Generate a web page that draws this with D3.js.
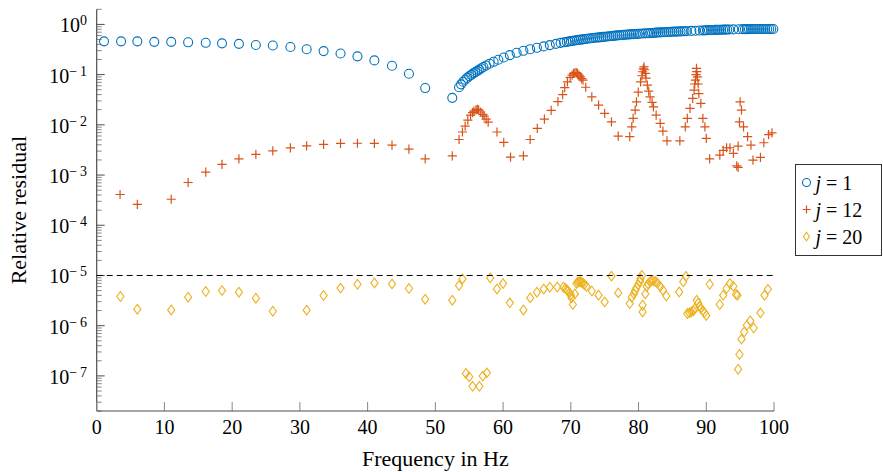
<!DOCTYPE html>
<html>
<head>
<meta charset="utf-8">
<script src="https://cdn.jsdelivr.net/npm/d3@7"></script>
<style>
  html, body { margin: 0; padding: 0; background: #fff; }
  svg { display: block; font-family: "Liberation Serif", "Times New Roman", serif; }
</style>
</head>
<body>
<svg id="chart" width="883" height="472"></svg>
<script>
// Relative residual of three iterates j over the frequency band.
const seriesNames = ["j = 1", "j = 12", "j = 20"];
const threshold = 1e-5;
const xTicks = [0, 10, 20, 30, 40, 50, 60, 70, 80, 90, 100];
const yDecades = [0, -1, -2, -3, -4, -5, -6, -7];

// j = 1  [frequency in Hz, relative residual]
const j1 = [
  [1.08,0.46],[3.6,0.46],[6.0,0.46],[8.5,0.45],[11.0,0.45],[13.5,0.44],[16.1,0.43],[18.5,0.42],
  [21.0,0.41],[23.5,0.39],[26.0,0.38],[28.6,0.355],[31.0,0.32],[33.5,0.294],[36.0,0.264],
  [38.5,0.231],[41.0,0.192],[43.6,0.15],[46.1,0.104],[48.5,0.054],[52.5,0.0345],
  [53.5,0.056],[53.8,0.064],[54.1,0.072],[54.4,0.079],[54.7,0.086],[55.0,0.093],[55.3,0.099],
  [55.6,0.106],[55.9,0.112],[56.2,0.119],[56.5,0.126],[56.8,0.134],[57.1,0.142],[57.5,0.152],
  [58.0,0.165],[58.6,0.18],[59.3,0.198],[60.1,0.219],[61.0,0.245],[62.0,0.272],[63.0,0.298],
  [64.0,0.321],[65.0,0.342],[66.0,0.365],[66.9,0.387],[67.8,0.41],[68.5,0.428],[69.0,0.44],
  [69.4,0.45],[69.7,0.457],
  [70.0,0.464],[70.3,0.471],[70.6,0.478],[70.9,0.486],[71.2,0.492],[71.5,0.498],[71.8,0.504],
  [72.1,0.511],[72.4,0.517],[72.7,0.524],[73.0,0.53],[73.3,0.536],[73.6,0.542],[73.9,0.547],
  [74.2,0.553],[74.5,0.558],[74.8,0.564],[75.1,0.569],[75.4,0.574],[75.7,0.58],[76.0,0.586],
  [76.3,0.592],[76.6,0.598],[76.9,0.604],[77.2,0.61],[77.5,0.614],[77.8,0.619],[78.1,0.623],
  [78.4,0.628],[78.7,0.632],[79.0,0.636],[79.3,0.64],[79.6,0.645],[79.9,0.649],[80.2,0.653],
  [80.6,0.658],[81.0,0.663],[81.4,0.668],
  [81.7,0.672],[82.0,0.676],[82.3,0.68],[82.6,0.685],[82.9,0.689],[83.2,0.693],[83.5,0.697],
  [83.8,0.7],[84.1,0.704],[84.4,0.707],[84.7,0.711],[85.0,0.714],[85.3,0.717],[85.6,0.72],
  [85.9,0.723],[86.2,0.726],[86.5,0.729],[86.8,0.732],[87.1,0.735],
  [87.8,0.742],[88.4,0.748],[89.0,0.754],
  [89.5,0.759],[89.8,0.762],[90.1,0.765],[90.4,0.769],[90.7,0.772],[91.0,0.774],[91.3,0.777],
  [91.6,0.779],[91.9,0.781],[92.2,0.784],[92.5,0.786],[92.8,0.788],[93.1,0.79],[93.4,0.792],
  [94.0,0.796],[94.8,0.801],
  [95.4,0.804],[95.7,0.805],[96.0,0.806],[96.3,0.807],[96.6,0.808],[96.9,0.809],[97.2,0.809],
  [97.5,0.81],[97.8,0.81],[98.1,0.811],[98.4,0.811],[98.7,0.811],[99.0,0.812],[99.3,0.812],
  [99.6,0.812],[99.9,0.812]
];

// j = 12
const j12 = [
  [3.45,4.1e-4],[6.0,2.6e-4],[11.0,3.3e-4],[13.5,7.1e-4],[16.1,1.14e-3],[18.5,1.63e-3],
  [21.0,2.1e-3],[23.5,2.57e-3],[26.0,3.03e-3],[28.6,3.48e-3],[31.0,3.8e-3],[33.5,4.07e-3],
  [36.0,4.26e-3],[38.5,4.3e-3],[41.0,4.26e-3],[43.6,3.94e-3],[46.1,3.28e-3],[48.5,2.1e-3],
  [52.5,2.41e-3],[53.5,5.1e-3],[54.0,7.2e-3],[54.4,9.4e-3],[54.8,0.0124],[55.2,0.0156],
  [55.5,0.0175],[55.7,0.0188],[56.0,0.0198],[56.2,0.0203],[56.4,0.0199],[56.7,0.018],
  [57.0,0.0162],[57.2,0.0149],[57.5,0.013],[57.8,0.0113],[59.1,7.2e-3],[60.1,4.46e-3],
  [61.1,2.27e-3],[63.0,2.41e-3],[64.0,5.1e-3],[65.05,8.5e-3],[66.1,0.013],[67.1,0.0194],
  [68.1,0.029],[68.8,0.04],[69.1,0.055],[69.5,0.072],[69.9,0.088],[70.2,0.098],[70.4,0.106],
  [70.6,0.109],[70.8,0.11],[71.0,0.106],[71.2,0.098],[71.4,0.09],[71.6,0.083],[71.8,0.078],
  [72.2,0.056],[73.1,0.036],[74.1,0.0247],[75.0,0.0169],[76.0,0.0115],[77.0,5.96e-3],
  [78.7,5.8e-3],[79.0,9.1e-3],[79.2,0.0134],[79.5,0.0196],[79.7,0.0287],[79.96,0.045],
  [80.3,0.072],[80.5,0.095],[80.6,0.114],[80.7,0.13],[80.8,0.143],[80.9,0.125],[81.0,0.106],
  [81.1,0.085],[81.3,0.062],[81.5,0.047],[81.7,0.036],[82.0,0.028],[82.2,0.0228],[82.6,0.0156],
  [83.2,0.0107],[83.6,7.5e-3],[84.2,4.8e-3],[86.1,4.8e-3],[86.9,9.1e-3],[87.2,0.0134],
  [87.6,0.0212],[88.0,0.0336],[88.2,0.049],[88.3,0.065],[88.4,0.078],[88.5,0.1],[88.55,0.133],
  [88.6,0.115],[88.7,0.09],[88.8,0.065],[88.9,0.042],[89.2,0.0267],[89.5,0.0134],[89.8,9.1e-3],
  [90.0,5.4e-3],[90.5,2.1e-3],[92.0,2.49e-3],[92.5,3.1e-3],[93.0,3.5e-3],[93.5,3.5e-3],
  [94.0,2.7e-3],[94.5,1.52e-3],[94.7,1.42e-3],[94.7,3.77e-3],[94.9,0.0115],[95.0,0.0287],
  [95.2,0.0196],[95.5,9.1e-3],[96.1,5.8e-3],[96.6,3.94e-3],[96.9,1.98e-3],[98.0,2.24e-3],
  [98.5,4.4e-3],[99.2,6.4e-3],[99.7,6.9e-3]
];

// j = 20
const j20 = [
  [3.5,3.82e-6],[6.0,2.13e-6],[11.0,2.06e-6],[13.5,3.7e-6],[16.1,4.8e-6],[18.5,5.0e-6],
  [21.0,4.65e-6],[23.5,3.53e-6],[26.0,1.94e-6],[31.0,2.04e-6],[33.5,4.0e-6],[36.0,5.6e-6],
  [38.5,6.7e-6],[41.0,7.1e-6],[43.6,6.8e-6],[46.1,5.5e-6],[48.5,3.37e-6],[52.5,3.22e-6],
  [53.5,6.3e-6],[54.0,8.55e-6],[54.5,1.12e-7],[55.0,9.6e-8],[55.5,6.2e-8],[56.5,6.2e-8],
  [57.0,9.9e-8],[57.6,1.15e-7],[58.1,8.95e-6],[59.1,5.4e-6],[60.0,6.9e-6],[61.0,2.85e-6],
  [63.0,2.06e-6],[64.0,3.58e-6],[65.0,4.65e-6],[66.0,5.4e-6],[66.9,5.85e-6],[68.0,5.9e-6],
  [68.9,5.85e-6],[69.2,5.5e-6],[69.4,5.2e-6],[69.6,4.9e-6],[69.8,4.5e-6],[70.0,4.1e-6],
  [70.1,3.6e-6],[70.3,2.64e-6],[70.6,4.3e-6],[70.85,6.9e-6],[71.0,7.3e-6],[71.2,7.5e-6],
  [71.4,7.5e-6],[71.6,7.3e-6],[71.8,7.0e-6],[72.0,6.6e-6],[72.3,6.1e-6],[73.1,4.9e-6],
  [74.1,4.05e-6],[75.0,2.98e-6],[76.0,9.7e-6],[77.0,4.5e-6],[78.7,2.77e-6],[79.0,3.7e-6],
  [79.3,4.3e-6],[79.5,5.0e-6],[79.7,5.7e-6],[79.96,6.6e-6],[80.2,7.6e-6],[80.3,8.6e-6],
  [80.5,1.01e-5],[80.6,2.56e-6],[80.6,1.88e-6],[81.0,4.3e-6],[81.2,6.0e-6],[81.4,6.8e-6],
  [81.7,7.5e-6],[81.9,7.8e-6],[82.2,7.8e-6],[82.5,7.6e-6],[82.8,7.0e-6],[83.2,6.0e-6],
  [83.6,5.1e-6],[84.1,3.9e-6],[86.0,4.7e-6],[86.6,7.5e-6],[87.0,9.6e-6],[87.2,1.75e-6],
  [87.5,1.8e-6],[87.8,1.88e-6],[88.1,1.97e-6],[88.3,2.2e-6],[88.6,3.2e-6],[88.8,2.8e-6],
  [89.0,2.4e-6],[89.2,2.2e-6],[89.5,2.0e-6],[89.7,1.8e-6],[90.0,1.6e-6],[90.5,6.7e-6],
  [92.0,2.64e-6],[92.5,4.05e-6],[93.0,5.5e-6],[93.5,6.9e-6],[94.0,6.1e-6],[94.4,4.2e-6],
  [94.6,4.05e-6],[94.7,1.36e-7],[94.9,2.67e-7],[95.2,5.4e-7],[95.6,7.5e-7],[96.0,1.02e-6],
  [96.5,1.25e-6],[97.0,9.0e-7],[98.0,1.8e-6],[98.6,4.05e-6],[99.1,5.3e-6]
];

const colors = ["#0072BD", "#D95319", "#EDB120"];

const svg = d3.select("#chart");
const plot = { left: 96.7, right: 774, top: 9.3, bottom: 411 };

const x = d3.scaleLinear().domain([0, 100]).range([plot.left, plot.right]);
const y = d3.scaleLog().domain([2e-8, 2]).range([plot.bottom, plot.top]);

const axisColor = "#4d4d4d";

// ---- y axis: decades + minor ticks, drawn inward ----
const yAxis = svg.append("g").attr("class", "y-axis");
const minorVals = [];
for (let k = -8; k <= 0; k++) {
  for (let m = 2; m <= 9; m++) {
    const v = m * Math.pow(10, k);
    if (v >= 2e-8 && v <= 2.0001) minorVals.push(v);
  }
}
yAxis.selectAll("line.minor").data(minorVals).join("line")
  .attr("class", "minor")
  .attr("x1", plot.left).attr("x2", plot.left + 5)
  .attr("y1", d => y(d)).attr("y2", d => y(d))
  .attr("stroke", "#888").attr("stroke-width", 1);
yAxis.selectAll("line.major").data(yDecades).join("line")
  .attr("class", "major")
  .attr("x1", plot.left).attr("x2", plot.left + 8)
  .attr("y1", d => y(Math.pow(10, d))).attr("y2", d => y(Math.pow(10, d)))
  .attr("stroke", axisColor).attr("stroke-width", 1);
const yLab = yAxis.selectAll("text").data(yDecades).join("text")
  .attr("x", 87).attr("y", d => y(Math.pow(10, d)) + 8)
  .attr("text-anchor", "end").attr("font-size", 20).attr("fill", "#000");
yLab.append("tspan").text("10");
yLab.append("tspan").attr("dy", -7).attr("font-size", 14)
  .text(d => d === 0 ? "0" : "\u2212\u2009" + (-d));
yAxis.append("line")
  .attr("x1", plot.left).attr("x2", plot.left)
  .attr("y1", plot.top).attr("y2", plot.bottom)
  .attr("stroke", axisColor).attr("stroke-width", 1.2);

// ---- x axis ----
const xAxis = svg.append("g").attr("class", "x-axis");
xAxis.selectAll("line.tick").data(xTicks).join("line")
  .attr("class", "tick")
  .attr("x1", d => x(d)).attr("x2", d => x(d))
  .attr("y1", plot.bottom).attr("y2", plot.bottom - 9)
  .attr("stroke", "#888").attr("stroke-width", 1);
xAxis.selectAll("text").data(xTicks).join("text")
  .attr("x", d => x(d)).attr("y", 434)
  .attr("text-anchor", "middle").attr("font-size", 20).attr("fill", "#000")
  .text(d => d);
xAxis.append("line")
  .attr("x1", plot.left).attr("x2", plot.right)
  .attr("y1", plot.bottom).attr("y2", plot.bottom)
  .attr("stroke", axisColor).attr("stroke-width", 1.2);

// ---- axis titles ----
svg.append("text")
  .attr("x", (plot.left + plot.right) / 2).attr("y", 466)
  .attr("text-anchor", "middle").attr("font-size", 22).attr("fill", "#000")
  .text("Frequency in Hz");
svg.append("text")
  .attr("transform", `translate(26,${(plot.top + plot.bottom) / 2}) rotate(-90)`)
  .attr("text-anchor", "middle").attr("font-size", 22).attr("fill", "#000")
  .text("Relative residual");

// ---- markers ----
const crossPath = s => `M${-s},0H${s}M0,${-s}V${s}`;
const diamondPath = (w, h) => `M0,${-h}L${w},0L0,${h}L${-w},0Z`;

const marks = svg.append("g").attr("fill", "none");

marks.append("g").selectAll("circle").data(j1).join("circle")
  .attr("cx", d => x(d[0])).attr("cy", d => y(d[1])).attr("r", 4.5)
  .attr("stroke", colors[0]).attr("stroke-width", 1.1);

marks.append("g").selectAll("path").data(j12).join("path")
  .attr("transform", d => `translate(${x(d[0])},${y(d[1])})`)
  .attr("d", crossPath(4.6))
  .attr("stroke", colors[1]).attr("stroke-width", 1.2);

marks.append("g").selectAll("path").data(j20).join("path")
  .attr("transform", d => `translate(${x(d[0])},${y(d[1])})`)
  .attr("d", diamondPath(3.6, 4.8))
  .attr("stroke", colors[2]).attr("stroke-width", 1.1);

// ---- tolerance line ----
svg.append("line")
  .attr("x1", x(0)).attr("x2", x(100))
  .attr("y1", y(threshold)).attr("y2", y(threshold))
  .attr("stroke", "#000").attr("stroke-width", 1)
  .attr("stroke-dasharray", "6,4");

// ---- legend ----
const legend = svg.append("g").attr("transform", "translate(795.5,164.5)");
legend.append("rect").attr("width", 86).attr("height", 91)
  .attr("fill", "#fff").attr("stroke", "#333").attr("stroke-width", 1);
const rows = legend.selectAll("g.row").data(seriesNames).join("g")
  .attr("class", "row")
  .attr("transform", (d, i) => `translate(0,${18 + i * 27})`);
rows.each(function (d, i) {
  const g = d3.select(this);
  if (i === 0) {
    g.append("circle").attr("cx", 11).attr("cy", 0).attr("r", 4)
      .attr("fill", "none").attr("stroke", colors[0]).attr("stroke-width", 1.1);
  } else if (i === 1) {
    g.append("path").attr("transform", "translate(11,0)").attr("d", crossPath(4))
      .attr("fill", "none").attr("stroke", colors[1]).attr("stroke-width", 1.2);
  } else {
    g.append("path").attr("transform", "translate(11,0)").attr("d", diamondPath(3, 4.2))
      .attr("fill", "none").attr("stroke", colors[2]).attr("stroke-width", 1.1);
  }
  const parts = d.split(" = ");
  const t = g.append("text").attr("x", 20).attr("y", 7)
    .attr("font-size", 20).attr("fill", "#000");
  t.append("tspan").attr("font-style", "italic").text(parts[0]);
  t.append("tspan").text(" = " + parts[1]);
});
</script>
</body>
</html>
